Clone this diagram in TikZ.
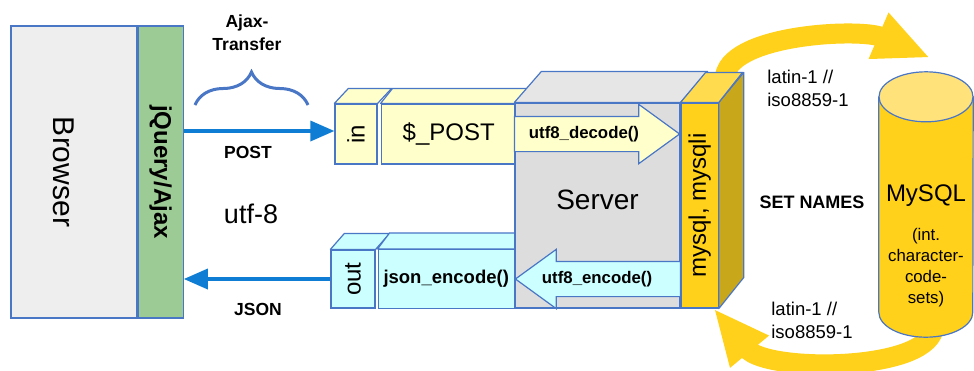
\documentclass[tikz,border=0pt]{standalone}
\usepackage{fontspec}
\setmainfont{Liberation Sans}
\usetikzlibrary{%
  arrows.meta, calc, positioning, shapes.arrows, shapes.geometric,
  decorations.pathreplacing, backgrounds
}
\definecolor{boxblue}{HTML}{4A76C6}
\definecolor{flowblue}{HTML}{0E7DD3}
\definecolor{browsergray}{HTML}{EEEEEE}
\definecolor{ajaxgreen}{HTML}{9DCB95}
\definecolor{inyellow}{HTML}{FFFFCC}
\definecolor{outcyan}{HTML}{CCFFFF}
\definecolor{servergray}{HTML}{DDDDDD}
\definecolor{servertop}{HTML}{E6E6E6}
\definecolor{dbgold}{HTML}{FFD11A}
\definecolor{golddark}{HTML}{C9A71B}
\definecolor{goldlight}{HTML}{FFDB4D}
\definecolor{cyltop}{HTML}{FFE27A}
\tikzstyle{box} = [%
  draw=boxblue,
  line width=1.2pt,
  inner sep=0pt
]
\tikzstyle{face} = [%
  draw=boxblue,
  line width=1.2pt,
  line join=round
]

\begin{document}
\begin{tikzpicture}[%
  x=1pt, y=-1pt,
  flow/.style={-{Triangle[length=24pt,width=20pt]}, draw=flowblue, line width=3.5pt},
  dbflow/.style={-{Triangle[length=56pt,width=46pt]}, draw=dbgold, line width=20pt},
  brace/.style={decorate, decoration={brace, amplitude=33pt}, draw=boxblue, line width=3pt},
  codearrow/.style={%
    single arrow, draw=boxblue, line width=1.2pt,
    minimum height=165pt, minimum width=58pt,
    single arrow head extend=12pt, single arrow tip angle=72,
    inner xsep=2pt, inner ysep=17pt
  },
  codelbl/.style={font=\fontsize{16.8}{20}\selectfont\bfseries},
  bigtxt/.style={font=\fontsize{28}{32}\selectfont},
  midtxt/.style={font=\fontsize{24}{28}\selectfont},
  lbl/.style={font=\fontsize{17.5}{23}\selectfont\bfseries},
  txt/.style={font=\fontsize{18.5}{23}\selectfont}
]
  \useasboundingbox (0,0) rectangle (974,370);

  % Client side
  \node[box, fill=browsergray, minimum width=126pt, minimum height=292pt] (browser) at (74,172) {};
  \node[rotate=-90, font=\fontsize{30}{34}\selectfont] (browsertxt) at (64,172) {Browser};
  \node[box, fill=ajaxgreen, minimum width=45pt, minimum height=292pt, right=0pt of browser] (ajax) {};
  \node[rotate=-90, font=\fontsize{24}{28}\selectfont\bfseries] (ajaxtxt) at (ajax) {jQuery/Ajax};

  % In / out boxes
  \node[box, fill=inyellow, minimum width=42pt, minimum height=60pt] (inbox) at (356,134) {};
  \node[rotate=90, midtxt] (intxt) at (inbox) {in};
  \node[box, fill=inyellow, minimum width=135pt, minimum height=60pt, right=3pt of inbox, midtxt] (post) {\$\_POST};
  \draw[face, fill=inyellow] (inbox.north west) -- ++(14,-15) -- ($(inbox.north east)+(14,-15)$) -- (inbox.north east) -- cycle;
  \draw[face, fill=inyellow] (post.north west) -- ++(12,-15) -- ($(post.north east)+(12,-15)$) -- (post.north east) -- cycle;

  \node[box, fill=outcyan, minimum width=44pt, minimum height=58pt] (outbox) at (353,279) {};
  \node[rotate=90, midtxt] (outtxt) at (outbox) {out};
  \node[box, fill=outcyan, minimum width=136pt, minimum height=59pt, right=2pt of outbox, font=\fontsize{18.5}{22}\selectfont\bfseries] (json) {json\_encode()};
  \draw[face, fill=outcyan] (outbox.north west) -- ++(14,-16) -- ($(outbox.north east)+(14,-16)$) -- (outbox.north east) -- cycle;
  \draw[face, fill=outcyan] (json.north west) -- ++(12,-16) -- ($(json.north east)+(12,-16)$) -- (json.north east) -- cycle;

  % Transfer
  \draw[flow] (ajax.east |- 0,131) -- ([yshift=3pt]inbox.west);
  \draw[flow] (outbox.west) -- (ajax.east |- outbox.west);
  \draw[brace] (195,105) -- (308,105);
  \node[lbl, align=center] (ajaxlbl) at (247,33) {Ajax-\\Transfer};
  \node[lbl] (postlbl) at (248,152) {POST};
  \node[font=\fontsize{27}{30}\selectfont] (utflbl) at (251,214) {utf-8};
  \node[lbl] (jsonlbl) at (258,309) {JSON};

  % Server
  \node[box, fill=servergray, minimum width=165pt, minimum height=205pt] (server) at (597.5,205.5) {};
  \draw[face, fill=servertop] (server.north west) -- ++(27,-31) -- ($(server.north east)+(27,-31)$) -- (server.north east) -- cycle;
  \node[bigtxt] (servertxt) at ($(server.center)+(0,-6)$) {Server};

  \node[box, fill=dbgold, minimum width=37pt, minimum height=205pt, right=0pt of server] (mysql) {};
  \draw[face, fill=golddark] (mysql.north east) -- ++(25,-30) -- ++(0,205) -- (mysql.south east) -- cycle;
  \draw[face, fill=goldlight] (mysql.north west) -- ++(25,-30) -- ++(37,0) -- (mysql.north east) -- cycle;
  \node[rotate=90, midtxt] (mysqltxt) at (mysql) {mysql, mysqli};

  \node[codearrow, fill=inyellow, anchor=tip] (decode) at (mysql.west |- post.east) {};
  \node[codelbl] (decodetxt) at ($(decode.tail)+(70,0)$) {utf8\_decode()};
  \node[codearrow, fill=outcyan, shape border rotate=180, anchor=tip] (encode) at (server.west |- json.east) {};
  \node[codelbl] (encodetxt) at ($(encode.tail)+(-84,0)$) {utf8\_encode()};

  % Database
  \node[minimum width=94pt, minimum height=265pt, inner sep=0pt] (db) at (926,204.5) {};
  \draw[face, fill=dbgold] ($(db.north west)+(0,25)$) -- ($(db.south west)+(0,-25)$)
    arc[start angle=180, end angle=360, x radius=47pt, y radius=25pt] -- ($(db.north east)+(0,25)$) -- cycle;
  \draw[face, fill=cyltop] ($(db.north)+(0,25)$) ellipse[x radius=47pt, y radius=25pt];
  \node[midtxt] (dbtitle) at (926,196) {MySQL};
  \node[align=center, font=\fontsize{16.8}{21}\selectfont] (dbnote) at (926,268) {(int.\\character-\\code-\\sets)};

  \begin{scope}[on background layer]
    \draw[dbflow] ($(mysql.north)+(25,-23)$) .. controls +(0,-45) and +(-70,-30) .. ($(db.north)+(4,-14)$);
    \draw[dbflow] ($(db.south)+(8,-12)$) .. controls +(0,47) and +(53,64) .. ($(mysql.south east)+(-5,0)$);
  \end{scope}

  \node[txt, align=left] (latintop) at (808,88) {latin-1 //\\iso8859-1};
  \node[lbl, font=\fontsize{18}{22}\selectfont\bfseries] (setnames) at (812,202) {SET NAMES};
  \node[txt, align=left] (latinbot) at (812,320) {latin-1 //\\iso8859-1};

\end{tikzpicture}
\end{document}
